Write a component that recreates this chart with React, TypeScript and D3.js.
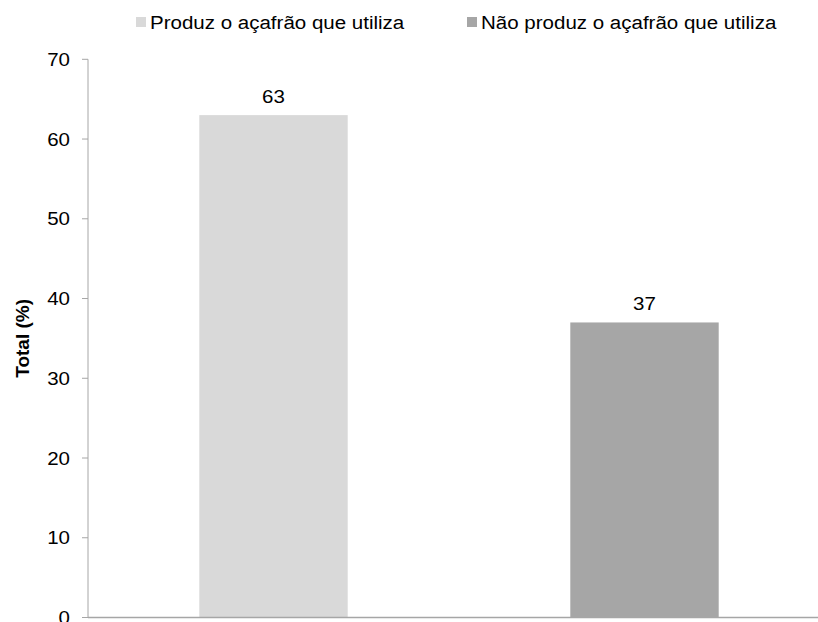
import React from "react";
import * as d3 from "d3";

const categories = ["Produz o açafrão que utiliza", "Não produz o açafrão que utiliza"];
const values = [63, 37];
const colors = ["#d9d9d9", "#a6a6a6"];
const yTicks = [0, 10, 20, 30, 40, 50, 60, 70];

const W = 818;
const H = 622;
const FONT = "Liberation Sans, Arial, sans-serif";
const FS = 19;
const SX = 1.08; // slightly widened glyphs

type LabelProps = {
  x: number;
  y: number;
  anchor?: "start" | "middle" | "end";
  dy?: string;
  children: React.ReactNode;
};

function Label({ x, y, anchor = "start", dy, children }: LabelProps) {
  return (
    <text
      transform={`translate(${x},${y}) scale(${SX},1)`}
      textAnchor={anchor}
      dy={dy}
      fontSize={FS}
      fill="#000"
    >
      {children}
    </text>
  );
}

export default function App() {
  const x = d3
    .scaleBand<string>()
    .domain(categories)
    .range([88, 830])
    .paddingInner(0.6)
    .paddingOuter(0.3);
  const y = d3.scaleLinear().domain([0, 70]).range([617.5, 59.3]);

  const legendX = [136, 467];

  return (
    <svg
      width={W}
      height={H}
      style={{ position: "absolute", left: 0, top: 0, background: "#fff" }}
      fontFamily={FONT}
    >
      {/* legend */}
      {categories.map((c, i) => (
        <g key={c}>
          <rect x={legendX[i]} y={17} width={10} height={10} fill={colors[i]} />
          <Label x={legendX[i] + 14} y={29}>
            {c}
          </Label>
        </g>
      ))}

      {/* y axis */}
      <line x1={88} x2={88} y1={y(70)} y2={y(0)} stroke="#a6a6a6" strokeWidth={1} />
      {yTicks.map((t) => (
        <g key={t}>
          <line x1={82} x2={88} y1={y(t)} y2={y(t)} stroke="#a6a6a6" strokeWidth={1} />
          <Label x={70} y={y(t)} anchor="end" dy="0.35em">
            {t}
          </Label>
        </g>
      ))}
      <text
        transform={`translate(29,${(y(0) + y(70)) / 2}) rotate(-90)`}
        textAnchor="middle"
        fontSize={FS}
        fontWeight="bold"
        fill="#000"
      >
        Total (%)
      </text>

      {/* bars */}
      {categories.map((c, i) => (
        <g key={c}>
          <rect
            x={x(c)!}
            y={y(values[i])}
            width={x.bandwidth()}
            height={y(0) - y(values[i])}
            fill={colors[i]}
          />
          <Label x={x(c)! + x.bandwidth() / 2} y={y(values[i]) - 12} anchor="middle">
            {values[i]}
          </Label>
        </g>
      ))}

      {/* baseline */}
      <line x1={88} x2={W} y1={y(0)} y2={y(0)} stroke="#a6a6a6" strokeWidth={1.5} />
    </svg>
  );
}
